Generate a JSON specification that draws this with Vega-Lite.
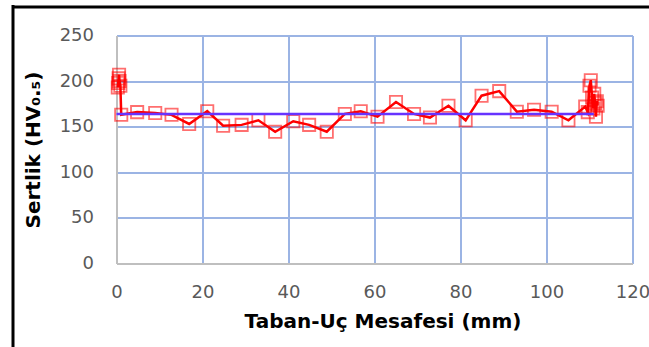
{
  "$schema": "https://vega.github.io/schema/vega-lite/v6.json",
  "width": 516,
  "height": 228,
  "autosize": {"type": "none"},
  "padding": {"left": 116.5, "top": 35.5, "right": 16.5, "bottom": 83.5},
  "background": "white",
  "config": {
    "view": {"stroke": null},
    "axis": {
      "labelFont": "DejaVu Sans",
      "labelFontSize": 18,
      "labelColor": "#595959",
      "labelFlush": false,
      "labelOverlap": false,
      "ticks": false,
      "grid": true,
      "gridColor": "#9bb4e4",
      "gridWidth": 2,
      "domainColor": "#bfbfbf",
      "domainWidth": 2,
      "titleFont": "DejaVu Sans",
      "titleFontSize": 20,
      "titleFontWeight": "bold",
      "titleColor": "#000000"
    }
  },
  "datasets": {
    "hardness": [
      {"distance": 0.3, "hardness": 193},
      {"distance": 0.4, "hardness": 198},
      {"distance": 0.5, "hardness": 203},
      {"distance": 0.6, "hardness": 207},
      {"distance": 0.7, "hardness": 200},
      {"distance": 0.9, "hardness": 195},
      {"distance": 1.1, "hardness": 163},
      {"distance": 4.8, "hardness": 166},
      {"distance": 9.0, "hardness": 165},
      {"distance": 12.8, "hardness": 163},
      {"distance": 16.9, "hardness": 153},
      {"distance": 21.1, "hardness": 167},
      {"distance": 24.8, "hardness": 151},
      {"distance": 29.1, "hardness": 152},
      {"distance": 33.0, "hardness": 157},
      {"distance": 36.9, "hardness": 144.5},
      {"distance": 41.1, "hardness": 156},
      {"distance": 44.8, "hardness": 152},
      {"distance": 48.9, "hardness": 144.5},
      {"distance": 53.1, "hardness": 164},
      {"distance": 56.8, "hardness": 167},
      {"distance": 60.7, "hardness": 161},
      {"distance": 65.0, "hardness": 177},
      {"distance": 69.2, "hardness": 164},
      {"distance": 72.9, "hardness": 160},
      {"distance": 77.2, "hardness": 173},
      {"distance": 81.2, "hardness": 157},
      {"distance": 84.9, "hardness": 184},
      {"distance": 89.0, "hardness": 189},
      {"distance": 93.1, "hardness": 166.5},
      {"distance": 97.1, "hardness": 168.5},
      {"distance": 101.2, "hardness": 166.5},
      {"distance": 105.1, "hardness": 157},
      {"distance": 109.0, "hardness": 172},
      {"distance": 109.6, "hardness": 166},
      {"distance": 110.0, "hardness": 195},
      {"distance": 110.3, "hardness": 201},
      {"distance": 110.6, "hardness": 182},
      {"distance": 110.9, "hardness": 170},
      {"distance": 111.1, "hardness": 186},
      {"distance": 111.3, "hardness": 176},
      {"distance": 111.5, "hardness": 161},
      {"distance": 111.7, "hardness": 178},
      {"distance": 111.9, "hardness": 173}
    ],
    "average": [
      {"distance": 0, "hardness": 164},
      {"distance": 111, "hardness": 164}
    ]
  },
  "layer": [
    {
      "encoding": {
        "x": {
          "field": "distance",
          "type": "quantitative",
          "scale": {"domain": [0, 120], "nice": false, "zero": false},
          "axis": {
            "orient": "bottom",
            "values": [0, 20, 40, 60, 80, 100, 120],
            "labelPadding": 20,
            "title": "Taban-Uç Mesafesi (mm)",
            "titlePadding": 10,
            "titleX": 266
          }
        },
        "y": {
          "field": "hardness",
          "type": "quantitative",
          "scale": {"domain": [0, 250], "nice": false},
          "axis": {
            "orient": "left",
            "values": [0, 50, 100, 150, 200, 250],
            "labelPadding": 23,
            "title": "Sertlik (HV₀.₅)",
            "titlePadding": 16
          }
        }
      },
      "layer": [
        {
          "data": {"name": "hardness"},
          "mark": {"type": "line", "color": "#ff0000", "strokeWidth": 2.5}
        },
        {
          "data": {"name": "hardness"},
          "mark": {
            "type": "point",
            "shape": "square",
            "size": 150,
            "filled": false,
            "stroke": "#ff0000",
            "strokeWidth": 1.8,
            "strokeOpacity": 0.8
          }
        },
        {
          "data": {"name": "average"},
          "mark": {"type": "line", "color": "#6633ff", "strokeWidth": 2.5}
        }
      ]
    },
    {
      "data": {"name": "average"},
      "mark": {"type": "point", "opacity": 0},
      "encoding": {
        "x": {
          "field": "distance",
          "type": "quantitative",
          "scale": {"range": [-104, 533]},
          "axis": {
            "orient": "top",
            "offset": 29,
            "grid": false,
            "labels": false,
            "title": null,
            "domainColor": "#000000",
            "domainWidth": 3
          }
        },
        "y": {
          "field": "hardness",
          "type": "quantitative",
          "scale": {"range": [312, -31]},
          "axis": {
            "orient": "left",
            "offset": 104,
            "grid": false,
            "labels": false,
            "title": null,
            "domainColor": "#000000",
            "domainWidth": 3
          }
        }
      }
    }
  ],
  "resolve": {
    "scale": {"x": "independent", "y": "independent"},
    "axis": {"x": "independent", "y": "independent"}
  }
}
